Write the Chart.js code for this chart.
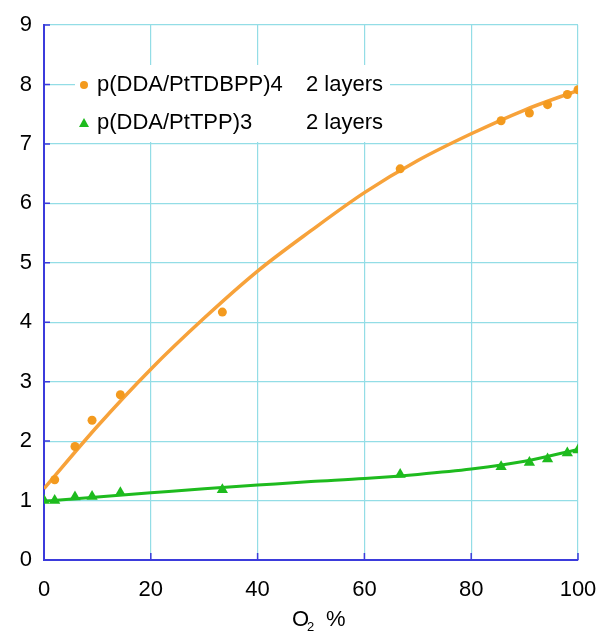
<!DOCTYPE html>
<html>
<head>
<meta charset="utf-8">
<script src="https://cdn.jsdelivr.net/npm/chart.js@4/dist/chart.umd.min.js"></script>
<style>
  html, body { margin: 0; padding: 0; background: #ffffff; overflow: hidden; }
  canvas { display: block; }
</style>
</head>
<body>
<canvas id="c" width="603" height="632" style="width:603px;height:632px"></canvas>
<script>
// ---- data ----
const seriesNames = ['p(DDA/PtTDBPP)4', 'p(DDA/PtTPP)3'];
const layerLabels = ['2 layers', '2 layers'];
const o2Percent = [0, 2, 5.8, 9, 14.3, 33.4, 66.7, 85.6, 90.9, 94.3, 98, 100];
const tdbppX = [2, 5.8, 9, 14.3, 33.4, 66.7, 85.6, 90.9, 94.3, 98, 100];
const tdbppY = [1.35, 1.91, 2.35, 2.78, 4.17, 6.58, 7.39, 7.52, 7.66, 7.83, 7.91];
const tppY = [1.0, 1.0, 1.06, 1.07, 1.13, 1.18, 1.44, 1.57, 1.64, 1.70, 1.80, 1.85];
const fitX = [0, 10, 20, 30, 40, 50, 60, 70, 80, 90, 100];
const tdbppFit = [1.20, 2.25, 3.21, 4.07, 4.86, 5.54, 6.18, 6.72, 7.17, 7.57, 7.90];
const tppFit = [0.99, 1.06, 1.13, 1.20, 1.26, 1.32, 1.37, 1.44, 1.53, 1.66, 1.86];
const xTickValues = [0, 20, 40, 60, 80, 100];
const yTickValues = [0, 1, 2, 3, 4, 5, 6, 7, 8, 9];
const xTitleMain = 'O';
const xTitleSub = '2';
const xTitleUnit = '%';

const ORANGE = '#f7a23a';
const ORANGE_PT = '#f39a1e';
const GREEN = '#1ebb1e';
const AXIS_BLUE = '#3b3bdc';
const GRID = '#93dde6';
const FONT = "'Liberation Sans', Arial, sans-serif";

const zip = (xs, ys) => xs.map((x, i) => ({ x: x, y: ys[i] }));

const decorations = {
  id: 'decorations',
  beforeDatasetsDraw(chart) {
    const { ctx, chartArea: a, scales: { x, y } } = chart;
    ctx.save();
    // legend background box (covers grid lines)
    ctx.fillStyle = '#ffffff';
    ctx.fillRect(a.left + 31, a.top + 40, 315, 77);
    // inward tick marks
    ctx.strokeStyle = AXIS_BLUE;
    ctx.lineWidth = 1.5;
    ctx.beginPath();
    xTickValues.forEach(v => {
      const px = x.getPixelForValue(v);
      ctx.moveTo(px, a.bottom);
      ctx.lineTo(px, a.bottom - 7);
    });
    yTickValues.forEach(v => {
      const py = y.getPixelForValue(v);
      ctx.moveTo(a.left, py);
      ctx.lineTo(a.left + 6, py);
    });
    ctx.stroke();
    ctx.restore();
  },
  afterDraw(chart) {
    const { ctx, chartArea: a } = chart;
    ctx.save();
    ctx.font = '22px ' + FONT;
    ctx.textBaseline = 'middle';
    const rows = [a.top + 60, a.top + 98];
    // marker 1: circle
    ctx.fillStyle = ORANGE_PT;
    ctx.beginPath();
    ctx.arc(a.left + 40, rows[0], 4, 0, Math.PI * 2);
    ctx.fill();
    // marker 2: triangle
    ctx.fillStyle = GREEN;
    ctx.beginPath();
    ctx.moveTo(a.left + 40, rows[1] - 5);
    ctx.lineTo(a.left + 45, rows[1] + 4);
    ctx.lineTo(a.left + 35, rows[1] + 4);
    ctx.closePath();
    ctx.fill();
    ctx.fillStyle = '#000';
    seriesNames.forEach((n, i) => {
      ctx.fillText(n, a.left + 53, rows[i]);
      ctx.fillText(layerLabels[i], a.left + 262, rows[i]);
    });
    // x axis title: O2 % with subscript
    const cx = (a.left + a.right) / 2;
    const ty = a.bottom + 60;
    ctx.textAlign = 'left';
    ctx.font = '22px ' + FONT;
    ctx.fillText(xTitleMain, cx - 19, ty);
    ctx.font = '13px ' + FONT;
    ctx.fillText(xTitleSub, cx - 4, ty + 7);
    ctx.font = '22px ' + FONT;
    ctx.fillText(xTitleUnit, cx + 15, ty);
    ctx.restore();
  }
};

new Chart(document.getElementById('c'), {
  type: 'scatter',
  data: {
    datasets: [
      {
        label: seriesNames[0] + ' points',
        data: zip(tdbppX, tdbppY),
        showLine: false,
        pointStyle: 'circle',
        pointRadius: 4.5,
        backgroundColor: ORANGE_PT,
        borderColor: ORANGE_PT,
        borderWidth: 0,
        order: 0
      },
      {
        label: seriesNames[1] + ' points',
        data: zip(o2Percent, tppY),
        showLine: false,
        pointStyle: 'triangle',
        pointRadius: 6.5,
        backgroundColor: GREEN,
        borderColor: GREEN,
        borderWidth: 0,
        order: 0
      },
      {
        label: seriesNames[0] + ' fit',
        data: zip(fitX, tdbppFit),
        showLine: true,
        pointRadius: 0,
        borderColor: ORANGE,
        borderWidth: 3.5,
        cubicInterpolationMode: 'monotone',
        fill: false,
        order: 1
      },
      {
        label: seriesNames[1] + ' fit',
        data: zip(fitX, tppFit),
        showLine: true,
        pointRadius: 0,
        borderColor: GREEN,
        borderWidth: 3,
        cubicInterpolationMode: 'monotone',
        fill: false,
        order: 1
      }
    ]
  },
  options: {
    responsive: false,
    maintainAspectRatio: false,
    devicePixelRatio: 1,
    animation: false,
    layout: { autoPadding: false, padding: { top: 25, right: 25, left: 0, bottom: 0 } },
    plugins: {
      legend: { display: false },
      tooltip: { enabled: false }
    },
    scales: {
      x: {
        type: 'linear',
        min: 0, max: 100,
        afterFit(s) { s.height = 72; s.paddingLeft = 0; s.paddingRight = 0; },
        afterBuildTicks(s) { s.ticks = xTickValues.map(v => ({ value: v })); },
        ticks: { color: '#000', font: { family: FONT, size: 22 }, padding: 17, maxRotation: 0 },
        grid: { color: GRID, lineWidth: 1.2, drawTicks: false },
        border: { color: AXIS_BLUE, width: 2 },
        title: { display: false }
      },
      y: {
        type: 'linear',
        min: 0, max: 9,
        afterFit(s) { s.width = 44; s.paddingTop = 0; s.paddingBottom = 0; },
        afterBuildTicks(s) { s.ticks = yTickValues.map(v => ({ value: v })); },
        ticks: { color: '#000', font: { family: FONT, size: 22 }, padding: 12 },
        grid: { color: GRID, lineWidth: 1.2, drawTicks: false },
        border: { color: AXIS_BLUE, width: 2 }
      }
    }
  },
  plugins: [decorations]
});
</script>
</body>
</html>
